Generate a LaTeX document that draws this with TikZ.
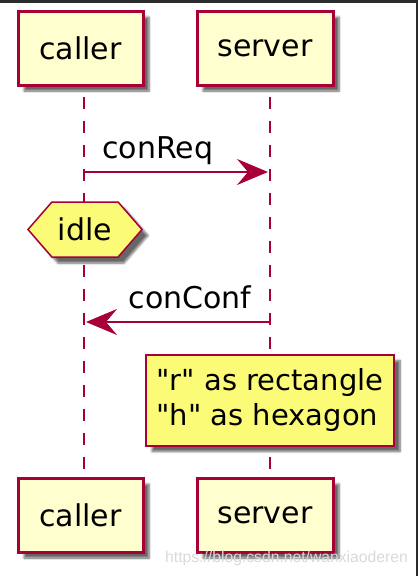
\documentclass[tikz,border=0pt]{standalone}
\usepackage{fontspec}
\setmainfont{DejaVu Sans}
\newfontfamily\markfont{Liberation Sans}
\usepackage{tikz}
\usetikzlibrary{shapes.symbols,arrows.meta,shadows.blur}
\definecolor{umlred}{HTML}{A80036}
\definecolor{partfill}{HTML}{FEFECE}
\definecolor{notefill}{HTML}{FBFB77}
\definecolor{framegray}{HTML}{2B2B2B}

\begin{document}
\begin{tikzpicture}[
  x=1pt, y=-1pt,
  font=\fontsize{30}{35}\selectfont,
  shade/.style={blur shadow={shadow xshift=6pt, shadow yshift=-6pt, shadow blur steps=6, shadow opacity=60}},
  part/.style={draw=umlred, line width=3pt, fill=partfill, shade, minimum height=74pt, minimum width=#1, inner sep=0pt},
  state/.style={signal, signal to=west and east, signal pointer angle=98, draw=umlred, line width=1.5pt,
    fill=notefill, shade, minimum width=114pt, minimum height=55pt, inner sep=0pt},
  rnote/.style={draw=umlred, line width=2pt, fill=notefill, shade, minimum width=248pt, minimum height=91pt,
    align=left, inner sep=0pt, font=\fontsize{29}{35}\selectfont},
  lifeline/.style={umlred, line width=2pt, dash pattern=on 12pt off 12pt, dash phase=14pt},
  msg/.style={-{Stealth[length=31pt, width=26pt, inset=11pt]}, umlred, line width=1.5pt},
  lbl/.style={anchor=base, yshift=14pt, inner sep=0pt, text=black}
]
  \useasboundingbox (0,0) rectangle (418,576);
  % screenshot frame
  \fill[framegray] (0,0) rectangle (418,3);
  \fill[framegray] (416,0) rectangle (418,576);

  % participants
  \node[part=125pt] (callerTop) at (80.5,48) {caller};
  \node[part=136pt] (serverTop) at (265,48) {server};
  \node[part=125pt] (callerBot) at (80.5,515) {caller};
  \node[part=136pt] (serverBot) at (265,515) {server};

  % lifelines
  \draw[lifeline] ([xshift=3.5pt]callerTop.south) -- ([xshift=3.5pt]callerBot.north);
  \draw[lifeline] ([xshift=5pt]serverTop.south) -- ([xshift=5pt]serverBot.north);

  % messages
  \coordinate (reqFrom) at (84,172);
  \coordinate (reqTo)   at (268,172);
  \coordinate (confFrom) at (270,322);
  \coordinate (confTo)   at (86,322);
  \draw[msg] (reqFrom) -- (reqTo) node[lbl, pos=0.40] {conReq};
  \draw[msg] (confFrom) -- (confTo) node[lbl, pos=0.435] {conConf};

  % state and note
  \node[state] (idle) at (85,229.5) {idle};
  \node[rnote] (note) at (270,400) {\textquotedbl r\textquotedbl{} as rectangle\\\textquotedbl h\textquotedbl{} as hexagon};

  % watermark
  \node[font=\markfont\fontsize{15.7}{18}\selectfont, text=black!15, inner sep=0pt] (mark) at (286.5,558)
    {https://blog.csdn.net/wanxiaoderen};
\end{tikzpicture}
\end{document}
